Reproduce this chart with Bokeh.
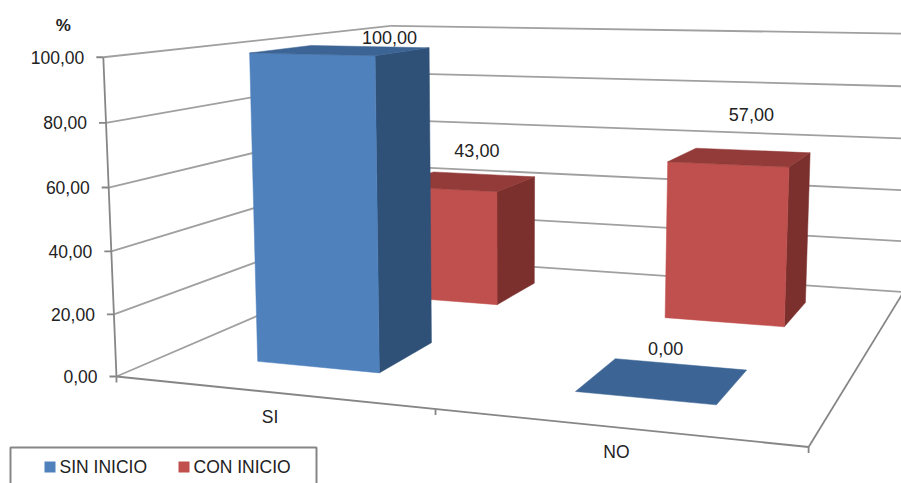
import numpy as np
from bokeh.plotting import figure
from bokeh.embed import file_html
from bokeh.resources import INLINE
from bokeh.core.properties import value

# ---------- data ----------
categories = ["SI", "NO"]
series_names = ["SIN INICIO", "CON INICIO"]
sin_inicio = [100.0, 0.0]
con_inicio = [43.0, 57.0]
y_ticks = [0, 20, 40, 60, 80, 100]
y_tick_labels = ["0,00", "20,00", "40,00", "60,00", "80,00", "100,00"]
axis_title = "%"

# ---------- layout ----------
FONT = "Liberation Sans"
TXT = "#222222"
GRID = "#a0a0a0"
AXIS = "#868686"
GAP = 1.5  # gap width of the 3D bars
STYLE = {
    "SIN INICIO": dict(front="#4F81BD", side="#2F5077", top="#3C6494"),
    "CON INICIO": dict(front="#C0504D", side="#7B302E", top="#933B39"),
}
# camera calibration: chart-box corners (u, depth, value/100) -> page pixels
corners = [
    ((0, 0, 0), (116, 376)), ((0, 0, 1), (103, 57)),
    ((0, 1, 0), (393, 257)), ((0, 1, 1), (390, 25)),
    ((1, 0, 0), (808, 447)), ((1, 0, 1), (820, 73)),
    ((1, 1, 0), (903, 291)), ((1, 1, 1), (914, 34)),
]
rows = []
for (a, b, c), (x, y) in corners:
    rows.append([a, b, c, 1, 0, 0, 0, 0, -x * a, -x * b, -x * c, -x])
    rows.append([0, 0, 0, 0, a, b, c, 1, -y * a, -y * b, -y * c, -y])
M = np.linalg.svd(np.array(rows, float))[2][-1].reshape(3, 4)


def P(u, d, v):
    q = M @ np.array([u, d, v / 100.0, 1.0])
    return q[0] / q[2], q[1] / q[2]


def seg(a, b):
    pa, pb = P(*a), P(*b)
    return [pa[0], pb[0]], [pa[1], pb[1]]


p = figure(width=901, height=483, x_range=(0, 901), y_range=(483, 0),
           output_backend="svg", toolbar_location=None, min_border=0,
           border_fill_color="white", background_fill_color="white", outline_line_color=None)
p.xaxis.visible = False
p.yaxis.visible = False
p.xgrid.visible = False
p.ygrid.visible = False

# ---------- walls ----------
xs, ys = [], []
for t in y_ticks:
    for a, b in [((0, 0, t), (0, 1, t)), ((0, 1, t), (1, 1, t))]:
        sx, sy = seg(a, b)
        xs.append(sx)
        ys.append(sy)
p.multi_line(xs, ys, line_color=GRID, line_width=1.8)

# ---------- axes frame ----------
xs, ys = [], []
for a, b in [((0, 0, 0), (0, 0, 100)), ((0, 0, 0), (1, 0, 0)), ((1, 0, 0), (1, 1, 0))]:
    sx, sy = seg(a, b)
    xs.append(sx)
    ys.append(sy)
for t in y_ticks:
    x0, y0 = P(0, 0, t)
    xs.append([x0 - 7, x0])
    ys.append([y0, y0])
for u in [0, 0.5, 1]:
    x0, y0 = P(u, 0, 0)
    xs.append([x0, x0])
    ys.append([y0, y0 + 6])
p.multi_line(xs, ys, line_color=AXIS, line_width=1.8)


# ---------- bars ----------
def bar(i, row, val, st):
    w = 0.5 / (1 + GAP)
    cu = 0.25 + 0.5 * i
    cd = 0.25 + 0.5 * row
    u0, u1, d0, d1 = cu - w / 2, cu + w / 2, cd - w / 2, cd + w / 2
    faces = []
    if val > 0:
        faces.append(([P(u1, d0, 0), P(u1, d1, 0), P(u1, d1, val), P(u1, d0, val)], st["side"]))
        faces.append(([P(u0, d0, 0), P(u1, d0, 0), P(u1, d0, val), P(u0, d0, val)], st["front"]))
    faces.append(([P(u0, d0, val), P(u1, d0, val), P(u1, d1, val), P(u0, d1, val)], st["top"]))
    for pts, col in faces:
        p.patch([q[0] for q in pts], [q[1] for q in pts], fill_color=col, line_color=col, line_width=0.5)
    return P(cu, cd, val)


anchors = {}
for row, (name, vals) in reversed(list(enumerate(zip(series_names, [sin_inicio, con_inicio])))):
    for i, v in enumerate(vals):
        anchors[(i, row)] = (bar(i, row, v, STYLE[name]), v)

# ---------- value labels ----------
label_shift = {(0, 0): (48, -13), (0, 1): (13, -31), (1, 1): (11, -43), (1, 0): (2.5, -32)}
lx, ly, lt = [], [], []
for k, ((ax, ay), v) in anchors.items():
    lx.append(ax + label_shift[k][0])
    ly.append(ay + label_shift[k][1])
    lt.append(f"{v:.2f}".replace(".", ","))
p.text(lx, ly, text=lt, text_font=value(FONT), text_font_size="18px", text_color=TXT,
       text_align="center", text_baseline="middle")

# ---------- axis labels ----------
tx, ty = [], []
for t in y_ticks:
    x0, y0 = P(0, 0, t)
    tx.append(x0 - 19)
    ty.append(y0)
p.text(tx, ty, text=y_tick_labels, text_font=value(FONT), text_font_size="17.5px", text_color=TXT,
       text_align="right", text_baseline="middle")

x100, y100 = P(0, 0, 100)
p.text([x100 - 40], [y100 - 32], text=[axis_title], text_font=value(FONT), text_font_size="17px",
       text_font_style="bold", text_color=TXT, text_align="center", text_baseline="middle")

cx, cy = [], []
for i in range(len(categories)):
    x0, y0 = P(0.25 + 0.5 * i, 0, 0)
    cx.append(x0 + i * 2)
    cy.append(y0 + 25)
p.text(cx, cy, text=categories, text_font=value(FONT), text_font_size="17.5px", text_color=TXT,
       text_align="center", text_baseline="middle")

# ---------- legend ----------
p.quad(left=[10], right=[316], top=[447], bottom=[492], fill_color="white", line_color=AXIS, line_width=2)
for x0, name in zip([44, 178], series_names):
    p.quad(left=[x0], right=[x0 + 11], top=[461], bottom=[472], fill_color=STYLE[name]["front"], line_color=None)
    p.text([x0 + 15], [466.5], text=[name], text_font=value(FONT), text_font_size="17.5px", text_color=TXT,
           text_align="left", text_baseline="middle")

open("out.html", "w").write(file_html(p, INLINE))
